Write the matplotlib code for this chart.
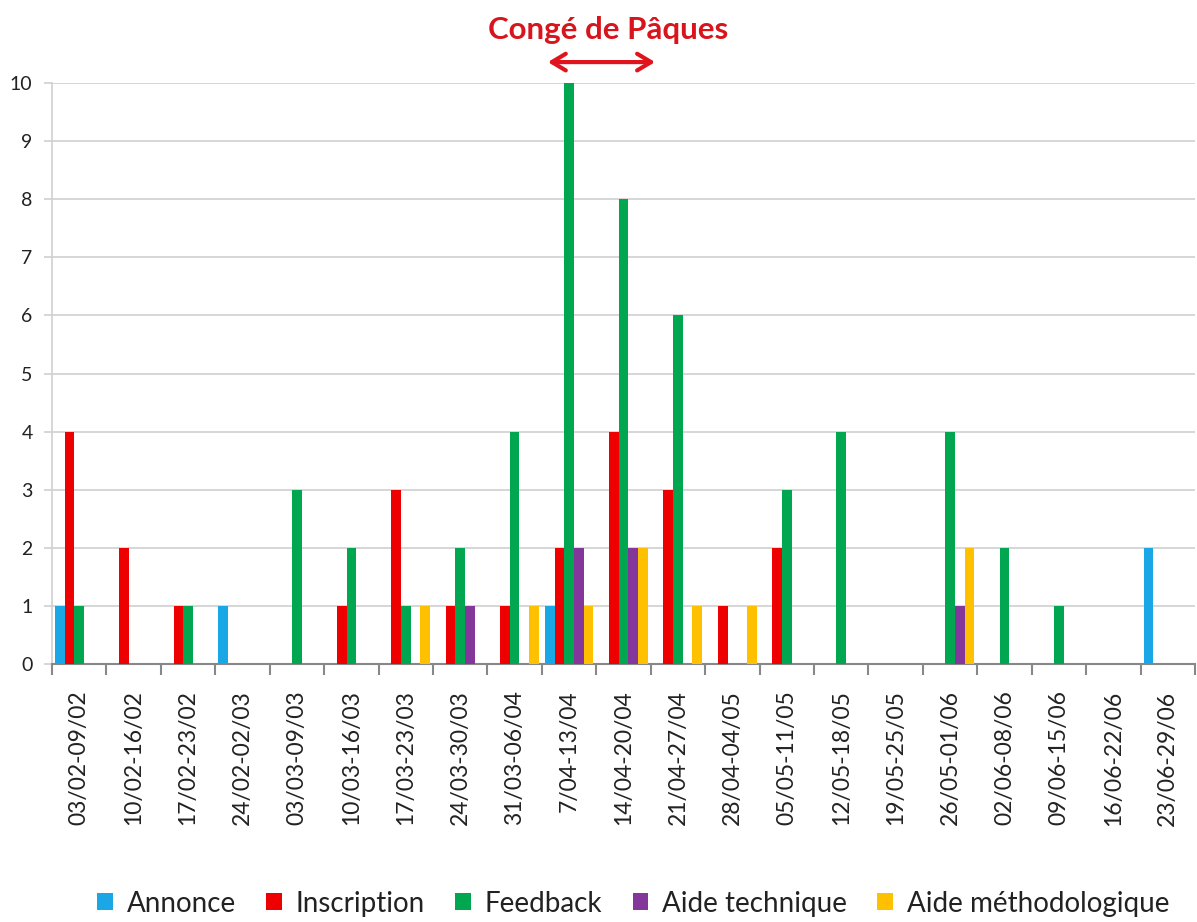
import numpy as np
import matplotlib.pyplot as plt

weeks = ['03/02-09/02', '10/02-16/02', '17/02-23/02', '24/02-02/03', '03/03-09/03',
         '10/03-16/03', '17/03-23/03', '24/03-30/03', '31/03-06/04', '7/04-13/04',
         '14/04-20/04', '21/04-27/04', '28/04-04/05', '05/05-11/05', '12/05-18/05',
         '19/05-25/05', '26/05-01/06', '02/06-08/06', '09/06-15/06', '16/06-22/06',
         '23/06-29/06']

annonce = [1, 0, 0, 1, 0, 0, 0, 0, 0, 1, 0, 0, 0, 0, 0, 0, 0, 0, 0, 0, 2]
inscription = [4, 2, 1, 0, 0, 1, 3, 1, 1, 2, 4, 3, 1, 2, 0, 0, 0, 0, 0, 0, 0]
feedback = [1, 0, 1, 0, 3, 2, 1, 2, 4, 10, 8, 6, 0, 3, 4, 0, 4, 2, 1, 0, 0]
aide_technique = [0, 0, 0, 0, 0, 0, 0, 1, 0, 2, 2, 0, 0, 0, 0, 0, 1, 0, 0, 0, 0]
aide_methodo = [0, 0, 0, 0, 0, 0, 1, 0, 1, 1, 2, 1, 1, 0, 0, 0, 2, 0, 0, 0, 0]

series = [
    ('Annonce', annonce, '#1AA7E6'),
    ('Inscription', inscription, '#EE0000'),
    ('Feedback', feedback, '#00A650'),
    ('Aide technique', aide_technique, '#84379A'),
    ('Aide méthodologique', aide_methodo, '#FFC000'),
]

plt.rcParams['font.family'] = ['Lato', 'DejaVu Sans']

fig = plt.figure(figsize=(11.97, 9.22), dpi=100)
ax = fig.add_axes([52 / 1197, 1 - 664 / 922, (1195 - 52) / 1197, (664 - 83) / 922])

x = np.arange(len(weeks))
width = 0.178
for i, (name, vals, color) in enumerate(series):
    ax.bar(x + (i - 2) * width, vals, width, color=color, label=name, zorder=3)

ax.set_xlim(-0.5, len(weeks) - 0.5)
ax.set_ylim(0, 10)
ax.set_yticks(range(0, 11))
ax.yaxis.grid(True, color='#D0D0D0', linewidth=1.2, zorder=0)

ax.set_xticks(x)
ax.set_xticklabels(weeks, rotation=90, fontsize=16.5, color='#222222')
ax.set_xticks(np.arange(-0.5, len(weeks)), minor=True)
ax.tick_params(axis='x', which='major', length=0, pad=19)
ax.tick_params(axis='x', which='minor', length=8, width=1.5, color='#888888')
ax.tick_params(axis='y', length=6, width=1.2, color='#D0D0D0', labelsize=14, labelcolor='#222222', pad=8)

for s in ['top', 'right']:
    ax.spines[s].set_visible(False)
ax.spines['left'].set_color('#D0D0D0')
ax.spines['left'].set_linewidth(1.2)
ax.spines['bottom'].set_color('#888888')
ax.spines['bottom'].set_linewidth(1.5)

# Easter holidays annotation
ax.annotate('', xy=(8.61, 10.36), xytext=(10.58, 10.36),
            arrowprops=dict(arrowstyle='<->,head_length=0.5,head_width=0.3', color='#E0141C',
                            lw=3, mutation_scale=20, shrinkA=0, shrinkB=0),
            annotation_clip=False)
ax.text(9.71, 10.91, 'Congé de Pâques', color='#D8141C', fontsize=22.5, fontweight='bold',
        ha='center', va='center', clip_on=False)

fig.legend(loc='center', bbox_to_anchor=(0.529, 0.02), ncol=5, frameon=False,
           fontsize=20, handlelength=0.55, handleheight=0.55, handletextpad=0.5,
           columnspacing=1.1, labelcolor='#222222')

fig.savefig('out.png', dpi=100)
